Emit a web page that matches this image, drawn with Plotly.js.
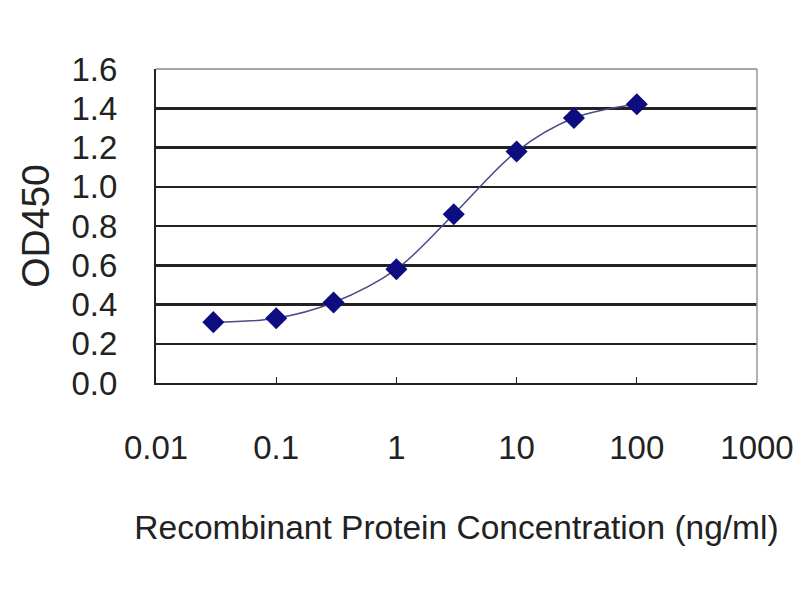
<!DOCTYPE html>
<html>
<head>
<meta charset="utf-8">
<script src="https://cdn.plot.ly/plotly-3.0.1.min.js"></script>
<style>
  html, body { margin: 0; padding: 0; background: #fff; }
  #chart { width: 800px; height: 600px; }
</style>
</head>
<body>
<div id="chart"></div>
<script>
// Concentration (ng/ml) and measured OD450
let concentration = [0.03, 0.1, 0.3, 1, 3, 10, 30, 100];
let od450 = [0.31, 0.33, 0.41, 0.58, 0.86, 1.18, 1.35, 1.42];

let xTicks = [0.01, 0.1, 1, 10, 100, 1000];
let xTickText = ["0.01", "0.1", "1", "10", "100", "1000"];
let yTicks = [0, 0.2, 0.4, 0.6, 0.8, 1.0, 1.2, 1.4, 1.6];

let curve = {
    x: concentration,
    y: od450,
    type: "scatter",
    mode: "lines+markers",
    line: {color: "#4b4b86", width: 1.5, shape: "spline", smoothing: 1},
    marker: {symbol: "diamond", size: 17, color: "#0d0d80"},
    hoverinfo: "x+y"
};

let layout = {
    width: 800,
    height: 600,
    margin: {l: 156, r: 43, t: 69, b: 217},
    paper_bgcolor: "#fff",
    plot_bgcolor: "#fff",
    showlegend: false,
    font: {family: "Liberation Sans, Arial, sans-serif", color: "#222"},
    xaxis: {
        type: "log",
        range: [-2, 3],
        tickvals: xTicks,
        ticktext: xTickText,
        tickfont: {size: 33, color: "#222"},
        ticks: "inside",
        ticklen: 6,
        tickcolor: "#222",
        ticklabelstandoff: 34,
        showgrid: false,
        showline: true,
        linecolor: "#222",
        linewidth: 2,
        zeroline: false,
        automargin: false,
        title: {text: "Recombinant Protein Concentration (ng/ml)", font: {size: 33.5, color: "#222"}, standoff: 51}
    },
    yaxis: {
        range: [0, 1.6],
        tickvals: yTicks,
        tickformat: ".1f",
        tickfont: {size: 33, color: "#222"},
        ticks: "inside",
        ticklen: 6,
        tickcolor: "#222",
        ticklabelstandoff: 30,
        showgrid: true,
        gridcolor: "#222",
        gridwidth: 2.5,
        showline: true,
        linecolor: "#222",
        linewidth: 2,
        zeroline: false,
        automargin: false,
        title: {text: "OD450", font: {size: 39, color: "#222"}, standoff: 10}
    },
    shapes: [
        {type: "line", xref: "paper", yref: "paper", x0: 1, x1: 1, y0: 0, y1: 1,
         line: {color: "#999", width: 1.5}},
        {type: "line", xref: "paper", yref: "paper", x0: 0, x1: 1, y0: 1, y1: 1,
         line: {color: "#888", width: 1.5}}
    ]
};

Plotly.newPlot("chart", [curve], layout, {displayModeBar: false, staticPlot: true});
</script>
</body>
</html>
